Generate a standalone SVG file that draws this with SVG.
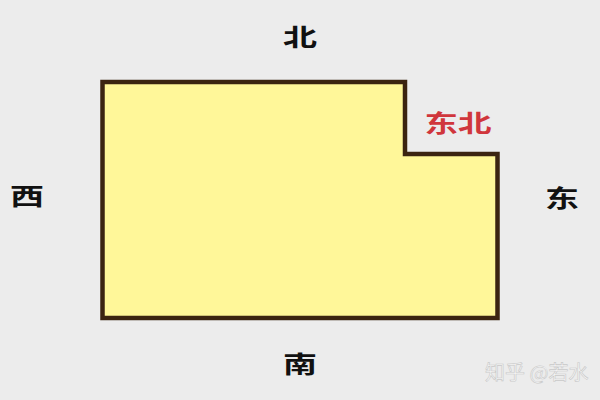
<svg xmlns="http://www.w3.org/2000/svg" width="600" height="400" viewBox="0 0 600 400">
<style>
.dir{font-family:"Noto Sans CJK SC","Noto Sans",sans-serif;font-size:24px;font-weight:bold;fill:#111;text-anchor:middle}
.red{fill:#d0363c}
.wm{font-family:"Noto Sans CJK SC","Noto Sans",sans-serif;font-size:20px;fill:#f7f7f7;stroke:#c8c8c8;stroke-width:0.6}
</style>
<rect width="600" height="400" fill="#ececec"/>
<g id="room">
<path d="M102.5 82 H405 V154 H497.5 V318 H102.5 Z" fill="#fff799" stroke="#3b2410" stroke-width="4.5" stroke-linejoin="miter"/>
</g>
<g id="north"><text class="dir" x="300" y="46" textLength="34" lengthAdjust="spacingAndGlyphs">北</text></g>
<g id="west"><text class="dir" x="27" y="205" textLength="34" lengthAdjust="spacingAndGlyphs">西</text></g>
<g id="east"><text class="dir" x="562" y="207" textLength="34" lengthAdjust="spacingAndGlyphs">东</text></g>
<g id="south"><text class="dir" x="300" y="373" textLength="34" lengthAdjust="spacingAndGlyphs">南</text></g>
<g id="northeast"><text class="dir red" x="458" y="132" textLength="67" lengthAdjust="spacingAndGlyphs">东北</text></g>
<text class="wm" x="485" y="380">知乎 @若水</text>
</svg>
